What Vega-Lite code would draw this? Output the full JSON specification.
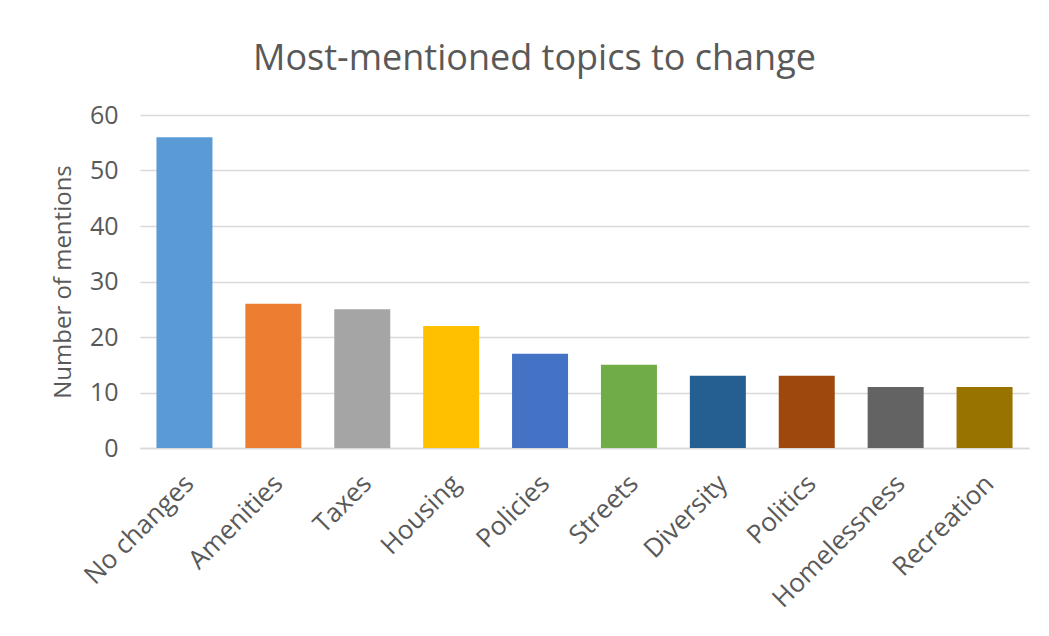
{
  "$schema": "https://vega.github.io/schema/vega-lite/v6.json",
  "autosize": "none",
  "width": 889,
  "height": 333,
  "padding": {"left": 140, "top": 115, "right": 20, "bottom": 188},
  "background": "white",
  "title": {
    "text": "Most-mentioned topics to change",
    "font": "Open Sans",
    "fontSize": 36,
    "fontWeight": "normal",
    "color": "#595959",
    "anchor": "middle",
    "dx": -50,
    "offset": 25
  },
  "data": {
    "values": [
      {"topic": "No changes", "mentions": 56, "color": "#5B9BD5"},
      {"topic": "Amenities", "mentions": 26, "color": "#ED7D31"},
      {"topic": "Taxes", "mentions": 25, "color": "#A5A5A5"},
      {"topic": "Housing", "mentions": 22, "color": "#FFC000"},
      {"topic": "Policies", "mentions": 17, "color": "#4472C4"},
      {"topic": "Streets", "mentions": 15, "color": "#70AD47"},
      {"topic": "Diversity", "mentions": 13, "color": "#255E91"},
      {"topic": "Politics", "mentions": 13, "color": "#9E480E"},
      {"topic": "Homelessness", "mentions": 11, "color": "#636363"},
      {"topic": "Recreation", "mentions": 11, "color": "#997300"}
    ]
  },
  "mark": {"type": "bar"},
  "encoding": {
    "x": {
      "field": "topic",
      "type": "nominal",
      "sort": null,
      "scale": {"paddingInner": 0.37, "paddingOuter": 0.185},
      "axis": {
        "title": null,
        "labelAngle": -45,
        "labelFont": "Open Sans",
        "labelFontSize": 26,
        "labelColor": "#595959",
        "labelPadding": 22,
        "labelOffset": -4,
        "ticks": false,
        "domainColor": "#d9d9d9",
        "domainWidth": 1.5
      }
    },
    "y": {
      "field": "mentions",
      "type": "quantitative",
      "scale": {"domain": [0, 60]},
      "axis": {
        "title": "Number of mentions",
        "values": [0, 10, 20, 30, 40, 50, 60],
        "titleFont": "Open Sans",
        "titleFontSize": 24,
        "titleFontWeight": "normal",
        "titleColor": "#595959",
        "titlePadding": 14,
        "labelFont": "Open Sans",
        "labelFontSize": 25,
        "labelColor": "#595959",
        "labelPadding": 22,
        "ticks": false,
        "domain": false,
        "grid": true,
        "gridColor": "#d9d9d9",
        "gridWidth": 1.5
      }
    },
    "color": {"field": "color", "type": "nominal", "scale": null, "legend": null}
  },
  "config": {"view": {"stroke": null}}
}
